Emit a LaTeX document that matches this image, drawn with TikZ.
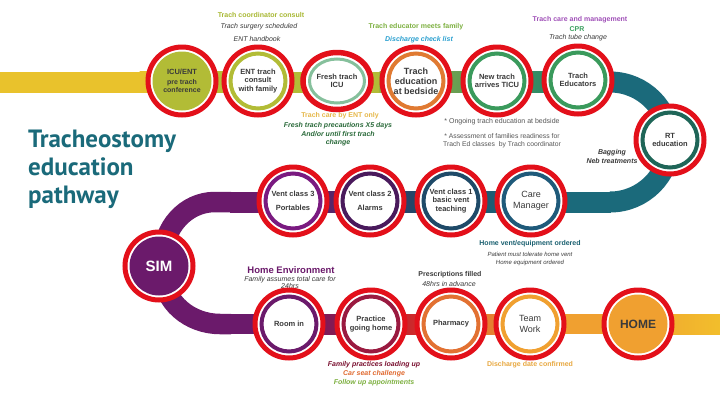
\documentclass[tikz,border=0pt]{standalone}
\usepackage{fontspec}
\setmainfont{Liberation Sans}
\newfontfamily\titlefont{PT Sans}
\usetikzlibrary{shapes.geometric}
\definecolor{ringred}{HTML}{E3101A}
\definecolor{ygreen}{HTML}{B2BC36}
\definecolor{yel}{HTML}{E9C22C}
\definecolor{paleg}{HTML}{86C09C}
\definecolor{orng}{HTML}{E07A32}
\definecolor{grn}{HTML}{3A9A5C}
\definecolor{tealc}{HTML}{1B6A7B}
\definecolor{rtg}{HTML}{1F6658}
\definecolor{purp}{HTML}{6B1A6B}
\definecolor{purp2}{HTML}{7A1A80}
\definecolor{dpurp}{HTML}{4A1A5C}
\definecolor{navy}{HTML}{1F4A68}
\definecolor{cmteal}{HTML}{1F5A7A}
\definecolor{dred}{HTML}{9A1A40}
\definecolor{bred}{HTML}{D02A2A}
\definecolor{phorange}{HTML}{E27132}
\definecolor{tworange}{HTML}{F0A030}
\definecolor{endyel}{HTML}{F2BE2C}
\definecolor{txt}{HTML}{3A3A3A}
\definecolor{titlec}{HTML}{1A6A7A}
\definecolor{annyg}{HTML}{A8B832}
\definecolor{anngreen}{HTML}{7DB040}
\definecolor{annblue}{HTML}{2AA0D0}
\definecolor{annpurp}{HTML}{A050B8}
\definecolor{anncpr}{HTML}{3DA060}
\definecolor{annent}{HTML}{E6B84A}
\definecolor{anndg}{HTML}{2A6A3A}
\definecolor{anngray}{HTML}{555555}
\definecolor{annteal}{HTML}{1A6070}
\definecolor{annmaroon}{HTML}{7A1030}
\definecolor{annorange}{HTML}{E06A30}
\definecolor{anndisc}{HTML}{E8A840}
\tikzset{
  stopnode/.style={circle, inner sep=0pt, minimum size=68pt, draw=ringred, line width=5pt,
    fill=white, align=center, text=txt, font=\fontsize{7.5}{8.5}\selectfont\bfseries,
    path picture={\draw[#1, line width=4pt] (path picture bounding box.center) circle[radius=27.5pt];}},
  fillnode/.style={circle, inner sep=0pt, minimum size=68pt, draw=ringred, line width=5pt,
    fill=white, align=center, text=txt, font=\fontsize{7.5}{8.5}\selectfont\bfseries,
    path picture={\fill[#1] (path picture bounding box.center) circle[radius=29.5pt];}},
  ovalnode/.style={ellipse, inner sep=0pt, minimum width=68pt, minimum height=57pt, draw=ringred, line width=5.5pt,
    fill=white, align=center, text=txt, font=\fontsize{7.5}{8.5}\selectfont\bfseries,
    path picture={\draw[#1, line width=3pt] (path picture bounding box.center) ellipse[x radius=27.5pt, y radius=22pt];}},
  ann/.style={inner sep=0pt, align=center, font=\fontsize{7}{8}\selectfont},
  annb/.style={ann, font=\fontsize{7}{8}\selectfont\bfseries},
  anni/.style={ann, font=\fontsize{7}{8}\selectfont\itshape},
  annbi/.style={ann, font=\fontsize{7}{8}\selectfont\bfseries\itshape},
  titleline/.style={anchor=base west, inner sep=0pt, text=titlec, font=\titlefont\fontsize{25}{28}\selectfont\bfseries},
}
\begin{document}
\begin{tikzpicture}[x=1pt, y=-1pt]
\useasboundingbox (0,0) rectangle (720,405);
\fill[white] (0,0) rectangle (720,405);

% ---------- track ----------
% top band
\fill[yel] (0,71.5) rectangle (140,92.5);
\shade[left color=yel, right color=ygreen] (139.5,71.5) rectangle (230,92.5);
\fill[ygreen] (229.5,71.5) rectangle (380,92.5);
\shade[left color=ygreen!85!tealc, right color=grn!70!tealc] (379.5,71.5) rectangle (540,92.5);
\shade[left color=grn!70!tealc, right color=tealc] (539.5,71.5) rectangle (611,92.5);
\draw[tealc, line width=21pt] (610,82) arc[start angle=90, end angle=-90, radius=60pt];
% middle band
\fill[tealc] (540,191.5) rectangle (611,212.5);
\shade[left color=navy, right color=tealc] (420,191.5) rectangle (540.5,212.5);
\shade[left color=purp, right color=navy] (300,191.5) rectangle (420.5,212.5);
\fill[purp] (229.5,191.5) rectangle (300.5,212.5);
\draw[purp, line width=20.5pt] (231,202) -- (215,202) to[out=180,in=90] (163,258) -- (163,272) to[out=-90,in=180] (220,324) -- (231,324);
% bottom band
\fill[purp] (230,314) rectangle (300,334);
\shade[left color=purp, right color=dred] (299.5,314) rectangle (360,334);
\shade[left color=dred, right color=bred] (359.5,314) rectangle (415,334);
\shade[left color=bred, right color=phorange] (414.5,314) rectangle (470,334);
\shade[left color=phorange, right color=tworange] (469.5,314) rectangle (540,334);
\fill[tworange] (539.5,314) rectangle (620,334);
\shade[left color=tworange, right color=endyel] (619.5,314) rectangle (720,334);

% ---------- title ----------
\node[titleline] (t1) at (28,147) {Tracheostomy};
\node[titleline] (t2) at (28,175) {education};
\node[titleline] (t3) at (28,203) {pathway};

% ---------- annotations ----------
\node[annb, text=annyg] (a1) at (261,15) {Trach coordinator consult};
\node[anni, text=txt] (a2) at (259,27) {Trach surgery scheduled};
\node[anni, text=txt] (a3) at (257,39) {ENT handbook};
\node[annb, text=anngreen] (a4) at (416,27) {Trach educator meets family};
\node[annbi, text=annblue] (a5) at (419,40) {Discharge check list};
\node[annb, text=annpurp] (a6) at (580,20) {Trach care and management};
\node[annb, text=anncpr] (a7) at (577,29) {CPR};
\node[anni, text=txt] (a8) at (578,38) {Trach tube change};

\node[annb, text=annent] (b1) at (340,116) {Trach care by ENT only};
\node[annbi, text=anndg] (b2) at (338,126) {Fresh trach precautions X5 days};
\node[anni, text=anndg, font=\fontsize{7}{8}\selectfont\itshape\bfseries] (b3) at (338,138.5) {And/or until first trach\\change};
\node[ann, text=anngray] (b4) at (502,122) {* Ongoing trach education at bedside};
\node[ann, text=anngray, font=\fontsize{6.8}{8}\selectfont] (b5) at (502,140.5) {* Assessment of families readiness for\\Trach Ed classes \ by Trach coordinator};
\node[anni, text=txt, font=\fontsize{7}{8.5}\selectfont\itshape\bfseries] (b6) at (612,156.5) {Bagging\\Neb treatments};

\node[annb, text=annteal] (c1) at (530,244) {Home vent/equipment ordered};
\node[anni, text=txt, font=\fontsize{6}{8}\selectfont\itshape] (c2) at (530,259) {Patient must tolerate home vent\\Home equipment ordered};
\node[ann, text=purp, font=\fontsize{9.5}{10}\selectfont\bfseries] (c3) at (291,270) {Home Environment};
\node[anni, text=txt, font=\fontsize{7}{7.5}\selectfont\itshape] (c4) at (290,282.5) {Family assumes total care for\\24hrs};
\node[annb, text=txt] (c5) at (450,275) {Prescriptions filled};
\node[anni, text=txt] (c6) at (449,284) {48hrs in advance};

\node[annbi, text=annmaroon] (d1) at (374,365) {Family practices loading up};
\node[annbi, text=annorange] (d2) at (374,374) {Car seat challenge};
\node[annbi, text=anngreen] (d3) at (374,383) {Follow up appointments};
\node[annb, text=anndisc] (d4) at (530,365) {Discharge date confirmed};

% ---------- stations ----------
\node[fillnode=ygreen] (icu) at (182,81) {ICU/ENT\\[1pt]{\fontsize{7}{8}\selectfont pre trach}\\{\fontsize{7}{8}\selectfont conference}};
\node[stopnode=ygreen] (ent) at (258,81) {ENT trach\\consult\\with family};
\node[ovalnode=paleg] (fresh) at (337,81) {Fresh trach\\ICU};
\node[stopnode=orng, font=\fontsize{9}{10}\selectfont\bfseries] (edu) at (416,81) {Trach\\education\\at bedside};
\node[stopnode=grn] (newt) at (497,81) {New trach\\arrives TICU};
\node[stopnode=grn] (educ) at (578,80) {Trach\\Educators};
\node[stopnode=rtg] (rt) at (670,140) {RT\\education};

\node[stopnode=purp2] (v3) at (293,201) {Vent class 3\\[5pt]Portables};
\node[stopnode=dpurp] (v2) at (370,201) {Vent class 2\\[5pt]Alarms};
\node[stopnode=navy] (v1) at (451,201) {Vent class 1\\basic vent\\teaching};
\node[stopnode=cmteal, font=\fontsize{9}{10.5}\selectfont] (cm) at (531,201) {Care\\Manager};

\node[fillnode=purp, text=white, font=\fontsize{15}{16}\selectfont\bfseries] (sim) at (159,266) {SIM};

\node[stopnode=purp] (room) at (289,324) {Room in};
\node[stopnode=dred] (prac) at (371,324) {Practice\\going home};
\node[stopnode=phorange] (pharm) at (451,324) {Pharmacy};
\node[stopnode=tworange, font=\fontsize{9}{10.5}\selectfont] (team) at (530,324) {Team\\Work};
\node[fillnode=tworange, font=\fontsize{12}{13}\selectfont\bfseries] (home) at (638,324) {HOME};
\end{tikzpicture}
\end{document}
